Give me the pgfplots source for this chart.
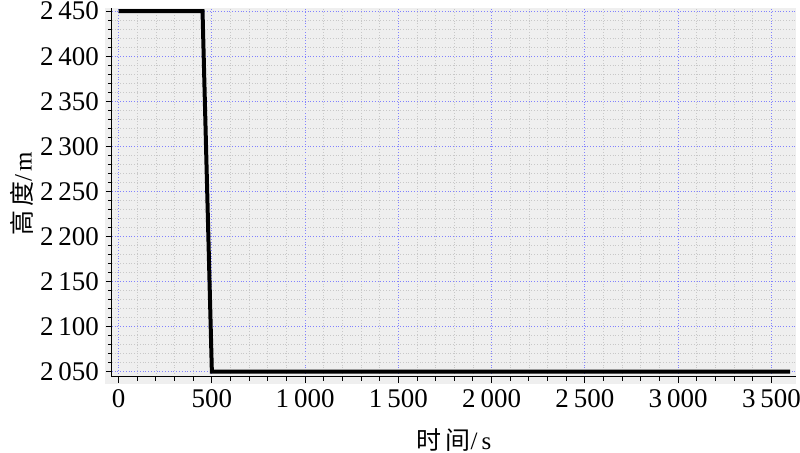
\documentclass[border=0pt]{standalone}
\usepackage{fontspec}
\setmainfont{Liberation Serif}
\newfontfamily\cjk{Noto Sans CJK SC}
\usepackage{pgfplots}
\pgfplotsset{compat=1.18}
\usetikzlibrary{backgrounds}
\definecolor{panelgray}{RGB}{239,239,239}
\definecolor{gridblue}{RGB}{130,130,255}
\definecolor{gridgray}{RGB}{200,200,200}

\begin{document}
\begin{tikzpicture}
% frame of the whole picture: axis box sits at the origin
\useasboundingbox (-56pt,-38pt) rectangle (344.4pt,188.5pt);
\begin{axis}[
    scale only axis, width=342.4pt, height=184.5pt,
    xmin=-36, xmax=3632, ymin=2044.5, ymax=2453.5,
    axis x line*=bottom, axis y line*=left,
    axis line style={-, black, line width=0.6pt},
    xtick={0,500,...,3500}, ytick={2050,2100,...,2450},
    minor x tick num=4, minor y tick num=4,
    tick align=outside, major tick length=3pt, minor tick length=2pt,
    tick style={black, line width=0.5pt},
    grid=both,
    major grid style={gridblue, densely dotted, line width=0.5pt},
    minor grid style={gridgray, densely dotted, line width=0.4pt},
    ticklabel style={font=\fontsize{13.5}{16}\selectfont},
    /pgf/number format/assume math mode=true,
    /pgf/number format/1000 sep={\hspace{0.18em}},
    scaled ticks=false,
    xlabel={{\cjk 时\hspace{2pt}间}/\hspace{2pt}s},
    ylabel={{\cjk 高\hspace{2pt}度}/\hspace{2pt}m},
    label style={font=\fontsize{12.5}{14}\selectfont},
    xlabel style={at={(rel axis cs:0.5,0)}, anchor=center, yshift=-32pt},
    ylabel style={at={(rel axis cs:0,0.496)}, anchor=center, rotate=0, yshift=45pt},
]
\coordinate (bl) at (rel axis cs:0,0);
\coordinate (tr) at (rel axis cs:1,1);
\addplot[black, line width=2pt, line join=miter] coordinates {
    (0,2450)(450,2450)(500,2050)(3600,2050)
};
\end{axis}
\begin{scope}[on background layer]
\fill[panelgray] ([shift={(-3.5pt,-3.5pt)}]bl) rectangle (tr);
\end{scope}
\end{tikzpicture}
\end{document}
